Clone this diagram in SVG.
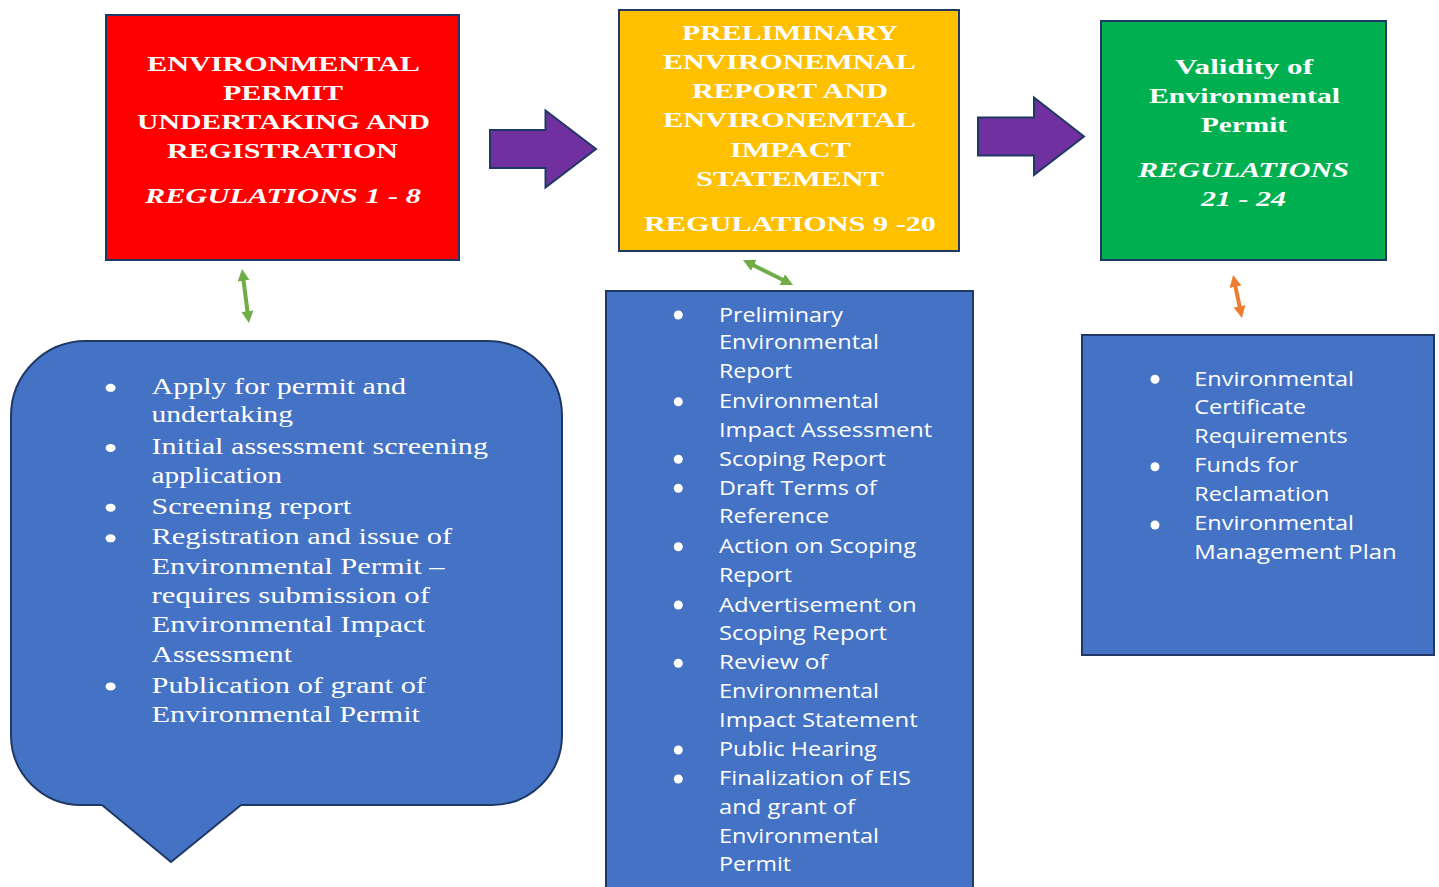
<svg xmlns="http://www.w3.org/2000/svg" width="1439" height="887" viewBox="0 0 1439 887">
  <style>
    .box { stroke: #1F3864; stroke-width: 2; }
    .blue { fill: #4472C4; stroke: #1F3864; stroke-width: 2; }
    .head { font-family: "Liberation Serif", "Times New Roman", serif; font-weight: bold; font-size: 22px; fill: #FFFFFF; }
    .ital { font-style: italic; }
    .serif { font-family: "Liberation Serif", "Times New Roman", serif; font-size: 23.5px; fill: #FFFFFF; }
    .sans { font-family: "Open Sans", "Noto Sans", "Liberation Sans", sans-serif; font-size: 19.5px; fill: #FFFFFF; }
    .dot { fill: #FFFFFF; }
    .flow { fill: #7030A0; stroke: #1F3864; stroke-width: 2; }
    .link { fill: none; stroke-width: 4; }
  </style>
  <defs>
    <marker id="tipGreen" markerUnits="userSpaceOnUse" markerWidth="14" markerHeight="14" refX="2" refY="6" orient="auto-start-reverse">
      <path d="M0,0 L12,6 L0,12 Z" fill="#70AD47"/>
    </marker>
    <marker id="tipOrange" markerUnits="userSpaceOnUse" markerWidth="14" markerHeight="14" refX="2" refY="6" orient="auto-start-reverse">
      <path d="M0,0 L12,6 L0,12 Z" fill="#ED7D31"/>
    </marker>
  </defs>

  <rect width="1439" height="887" fill="#FFFFFF"/>

  <!-- stage 1 -->
  <g id="stage-permit">
    <rect class="box" x="106" y="15" width="353" height="245" fill="#FF0000"/>
    <text class="head" x="147" y="71" textLength="273" lengthAdjust="spacingAndGlyphs">ENVIRONMENTAL</text>
    <text class="head" x="223" y="100" textLength="120" lengthAdjust="spacingAndGlyphs">PERMIT</text>
    <text class="head" x="137" y="129" textLength="293" lengthAdjust="spacingAndGlyphs">UNDERTAKING AND</text>
    <text class="head" x="167" y="158" textLength="231" lengthAdjust="spacingAndGlyphs">REGISTRATION</text>
    <text class="head ital" x="145" y="203" textLength="276" lengthAdjust="spacingAndGlyphs">REGULATIONS 1 - 8</text>
  </g>

  <!-- stage 2 -->
  <g id="stage-report">
    <rect class="box" x="619" y="10" width="340" height="241" fill="#FFC000"/>
    <text class="head" x="682" y="40" textLength="216" lengthAdjust="spacingAndGlyphs">PRELIMINARY</text>
    <text class="head" x="663" y="69" textLength="253" lengthAdjust="spacingAndGlyphs">ENVIRONEMNAL</text>
    <text class="head" x="692" y="98" textLength="196" lengthAdjust="spacingAndGlyphs">REPORT AND</text>
    <text class="head" x="663" y="127" textLength="253" lengthAdjust="spacingAndGlyphs">ENVIRONEMTAL</text>
    <text class="head" x="730" y="157" textLength="121" lengthAdjust="spacingAndGlyphs">IMPACT</text>
    <text class="head" x="696" y="186" textLength="188" lengthAdjust="spacingAndGlyphs">STATEMENT</text>
    <text class="head" x="644" y="231" textLength="292" lengthAdjust="spacingAndGlyphs">REGULATIONS 9 -20</text>
  </g>

  <!-- stage 3 -->
  <g id="stage-validity">
    <rect class="box" x="1101" y="21" width="285" height="239" fill="#00B050"/>
    <text class="head" x="1175" y="74" textLength="138" lengthAdjust="spacingAndGlyphs">Validity of</text>
    <text class="head" x="1149" y="103" textLength="191" lengthAdjust="spacingAndGlyphs">Environmental</text>
    <text class="head" x="1201" y="132" textLength="86" lengthAdjust="spacingAndGlyphs">Permit</text>
    <text class="head ital" x="1138" y="177" textLength="211" lengthAdjust="spacingAndGlyphs">REGULATIONS</text>
    <text class="head ital" x="1201" y="206" textLength="85" lengthAdjust="spacingAndGlyphs">21 - 24</text>
  </g>

  <!-- details of stage 1 (callout) -->
  <g id="detail-permit">
    <path class="blue" d="M86,341 H487 A75,75 0 0 1 562,416 V735 A70,70 0 0 1 492,805 H241 L171,862 L102,805 H81 A70,70 0 0 1 11,735 V416 A75,75 0 0 1 86,341 Z"/>
    <ellipse class="dot" cx="110.6" cy="387.8" rx="5" ry="4"/>
    <ellipse class="dot" cx="110.6" cy="448" rx="5" ry="4"/>
    <ellipse class="dot" cx="110.6" cy="507.7" rx="5" ry="4"/>
    <ellipse class="dot" cx="110.6" cy="538.3" rx="5" ry="4"/>
    <ellipse class="dot" cx="110.6" cy="686.4" rx="5" ry="4"/>
    <text class="serif" x="151.5" y="394" textLength="254.5" lengthAdjust="spacingAndGlyphs">Apply for permit and</text>
    <text class="serif" x="151.5" y="422" textLength="141.5" lengthAdjust="spacingAndGlyphs">undertaking</text>
    <text class="serif" x="151.5" y="454" textLength="336.5" lengthAdjust="spacingAndGlyphs">Initial assessment screening</text>
    <text class="serif" x="151.5" y="482.5" textLength="130.5" lengthAdjust="spacingAndGlyphs">application</text>
    <text class="serif" x="151.5" y="514" textLength="199.5" lengthAdjust="spacingAndGlyphs">Screening report</text>
    <text class="serif" x="151.5" y="544" textLength="300.5" lengthAdjust="spacingAndGlyphs">Registration and issue of</text>
    <text class="serif" x="151.5" y="574" textLength="293" lengthAdjust="spacingAndGlyphs">Environmental Permit –</text>
    <text class="serif" x="151.5" y="603" textLength="278.5" lengthAdjust="spacingAndGlyphs">requires submission of</text>
    <text class="serif" x="151.5" y="632" textLength="273.5" lengthAdjust="spacingAndGlyphs">Environmental Impact</text>
    <text class="serif" x="151.5" y="661.5" textLength="140.5" lengthAdjust="spacingAndGlyphs">Assessment</text>
    <text class="serif" x="151.5" y="692.5" textLength="274.5" lengthAdjust="spacingAndGlyphs">Publication of grant of</text>
    <text class="serif" x="151.5" y="721.5" textLength="268.5" lengthAdjust="spacingAndGlyphs">Environmental Permit</text>
  </g>

  <!-- details of stage 2 -->
  <g id="detail-report">
    <rect class="blue" x="606" y="291" width="367" height="604"/>
    <circle class="dot" cx="678.3" cy="315" r="4.5"/>
    <circle class="dot" cx="678.3" cy="401.7" r="4.5"/>
    <circle class="dot" cx="678.3" cy="459.3" r="4.5"/>
    <circle class="dot" cx="678.3" cy="488.3" r="4.5"/>
    <circle class="dot" cx="678.3" cy="546.7" r="4.5"/>
    <circle class="dot" cx="678.3" cy="605" r="4.5"/>
    <circle class="dot" cx="678.3" cy="663.3" r="4.5"/>
    <circle class="dot" cx="678.3" cy="750" r="4.5"/>
    <circle class="dot" cx="678.3" cy="779" r="4.5"/>
    <text class="sans" x="719" y="321.7" textLength="124" lengthAdjust="spacingAndGlyphs">Preliminary</text>
    <text class="sans" x="719" y="349.3" textLength="160" lengthAdjust="spacingAndGlyphs">Environmental</text>
    <text class="sans" x="719" y="378.3" textLength="73" lengthAdjust="spacingAndGlyphs">Report</text>
    <text class="sans" x="719" y="407.7" textLength="160" lengthAdjust="spacingAndGlyphs">Environmental</text>
    <text class="sans" x="719" y="436.7" textLength="213.3" lengthAdjust="spacingAndGlyphs">Impact Assessment</text>
    <text class="sans" x="719" y="465.7" textLength="167" lengthAdjust="spacingAndGlyphs">Scoping Report</text>
    <text class="sans" x="719" y="495" textLength="157.7" lengthAdjust="spacingAndGlyphs">Draft Terms of</text>
    <text class="sans" x="719" y="523.3" textLength="110.3" lengthAdjust="spacingAndGlyphs">Reference</text>
    <text class="sans" x="719" y="553.3" textLength="197" lengthAdjust="spacingAndGlyphs">Action on Scoping</text>
    <text class="sans" x="719" y="581.7" textLength="73" lengthAdjust="spacingAndGlyphs">Report</text>
    <text class="sans" x="719" y="611.7" textLength="197.7" lengthAdjust="spacingAndGlyphs">Advertisement on</text>
    <text class="sans" x="719" y="640" textLength="168" lengthAdjust="spacingAndGlyphs">Scoping Report</text>
    <text class="sans" x="719" y="669.3" textLength="108.7" lengthAdjust="spacingAndGlyphs">Review of</text>
    <text class="sans" x="719" y="698.3" textLength="160" lengthAdjust="spacingAndGlyphs">Environmental</text>
    <text class="sans" x="719" y="726.7" textLength="198.7" lengthAdjust="spacingAndGlyphs">Impact Statement</text>
    <text class="sans" x="719" y="756" textLength="157.7" lengthAdjust="spacingAndGlyphs">Public Hearing</text>
    <text class="sans" x="719" y="785" textLength="192" lengthAdjust="spacingAndGlyphs">Finalization of EIS</text>
    <text class="sans" x="719" y="814" textLength="136" lengthAdjust="spacingAndGlyphs">and grant of</text>
    <text class="sans" x="719" y="842.7" textLength="160" lengthAdjust="spacingAndGlyphs">Environmental</text>
    <text class="sans" x="719" y="870.7" textLength="72" lengthAdjust="spacingAndGlyphs">Permit</text>
  </g>

  <!-- details of stage 3 -->
  <g id="detail-validity">
    <rect class="blue" x="1082" y="335" width="352" height="320"/>
    <circle class="dot" cx="1155" cy="379.3" r="4.5"/>
    <circle class="dot" cx="1155" cy="466.7" r="4.5"/>
    <circle class="dot" cx="1155" cy="525" r="4.5"/>
    <text class="sans" x="1194.3" y="385.7" textLength="159.7" lengthAdjust="spacingAndGlyphs">Environmental</text>
    <text class="sans" x="1194.3" y="414" textLength="111.7" lengthAdjust="spacingAndGlyphs">Certificate</text>
    <text class="sans" x="1194.3" y="442.7" textLength="153.4" lengthAdjust="spacingAndGlyphs">Requirements</text>
    <text class="sans" x="1194.3" y="472.3" textLength="104" lengthAdjust="spacingAndGlyphs">Funds for</text>
    <text class="sans" x="1194.3" y="500.7" textLength="135" lengthAdjust="spacingAndGlyphs">Reclamation</text>
    <text class="sans" x="1194.3" y="530" textLength="159.7" lengthAdjust="spacingAndGlyphs">Environmental</text>
    <text class="sans" x="1194.3" y="559" textLength="202.4" lengthAdjust="spacingAndGlyphs">Management Plan</text>
  </g>

  <!-- connectors -->
  <g id="connectors">
    <path class="flow" d="M490,130 H545.5 V110.5 L596,149 L545.5,187.5 V168 H490 Z"/>
    <path class="flow" d="M978,117.5 H1034 V97.5 L1084,136.5 L1034,175 V155.5 H978 Z"/>
    <line class="link" x1="243.3" y1="278.9" x2="247.7" y2="313.1" stroke="#70AD47" marker-start="url(#tipGreen)" marker-end="url(#tipGreen)"/>
    <line class="link" x1="751.9" y1="264.5" x2="784.1" y2="280.5" stroke="#70AD47" marker-start="url(#tipGreen)" marker-end="url(#tipGreen)"/>
    <line class="link" x1="1235.1" y1="284.8" x2="1239.9" y2="308.2" stroke="#ED7D31" marker-start="url(#tipOrange)" marker-end="url(#tipOrange)"/>
  </g>
</svg>
